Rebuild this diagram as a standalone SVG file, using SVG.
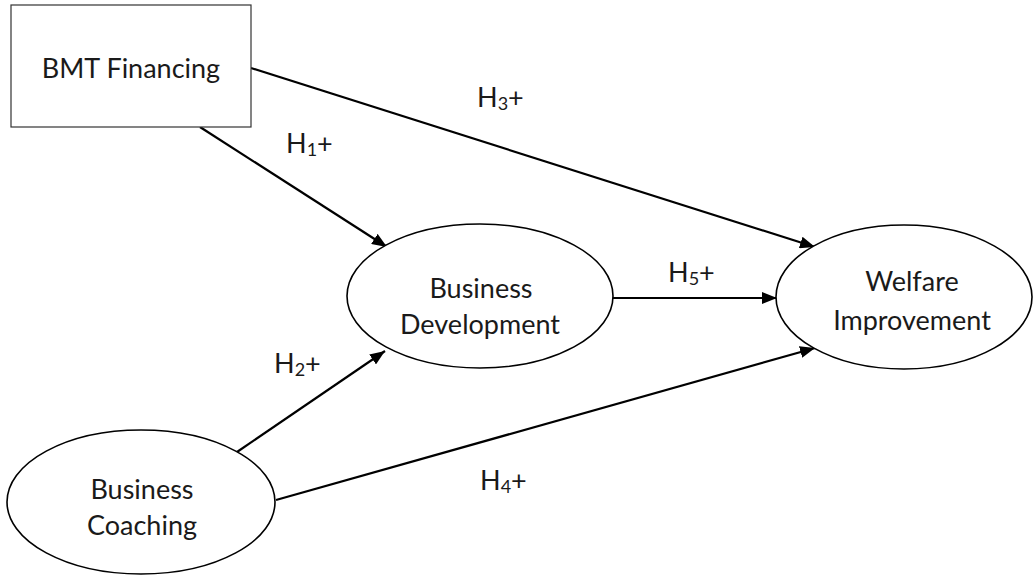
<svg xmlns="http://www.w3.org/2000/svg" width="1033" height="575" viewBox="0 0 1033 575">
<style>
text{font-family:Lato,"Open Sans","Liberation Sans",sans-serif;font-size:27px;fill:#1a1a1a;text-anchor:middle}
.lbl{text-anchor:start}
.node{fill:#fff;stroke:#000;stroke-width:1.6}
.box{fill:#fff;stroke:#333;stroke-width:1.2}
.edge{stroke:#000;stroke-width:2.2;fill:none;marker-end:url(#arr)}
</style>
<defs>
<marker id="arr" markerUnits="userSpaceOnUse" markerWidth="15" markerHeight="12" refX="15" refY="6" orient="auto">
<path d="M0,0 L15,6 L0,12 z" fill="#000"/>
</marker>
</defs>
<rect width="1033" height="575" fill="#fff"/>
<g id="connectors">
<line class="edge" x1="251" y1="68" x2="815" y2="247"/>
<line class="edge" x1="200" y1="127" x2="387" y2="247"/>
<line class="edge" x1="613" y1="298" x2="777" y2="298"/>
<line class="edge" x1="237" y1="452" x2="385" y2="351"/>
<line class="edge" x1="276" y1="500" x2="815" y2="348"/>
</g>
<g id="bmt-financing">
<rect class="box" x="11" y="5" width="240" height="122"/>
<text x="131" y="78">BMT Financing</text>
</g>
<g id="business-development">
<ellipse class="node" cx="480" cy="296" rx="133" ry="72"/>
<text x="481" y="298">Business</text>
<text x="480" y="334">Development</text>
</g>
<g id="welfare-improvement">
<ellipse class="node" cx="904" cy="297" rx="128" ry="72"/>
<text x="912" y="291">Welfare</text>
<text x="912" y="330">Improvement</text>
</g>
<g id="business-coaching">
<ellipse class="node" cx="141" cy="502" rx="134" ry="72"/>
<text x="142" y="499">Business</text>
<text x="142" y="535">Coaching</text>
</g>
<g id="labels">
<text class="lbl" x="477" y="107">H<tspan font-size="18" dy="3">3</tspan><tspan dy="-3">+</tspan></text>
<text class="lbl" x="286" y="153">H<tspan font-size="18" dy="3">1</tspan><tspan dy="-3">+</tspan></text>
<text class="lbl" x="668" y="282">H<tspan font-size="18" dy="3">5</tspan><tspan dy="-3">+</tspan></text>
<text class="lbl" x="274" y="373">H<tspan font-size="18" dy="3">2</tspan><tspan dy="-3">+</tspan></text>
<text class="lbl" x="480" y="490">H<tspan font-size="18" dy="3">4</tspan><tspan dy="-3">+</tspan></text>
</g>
</svg>
